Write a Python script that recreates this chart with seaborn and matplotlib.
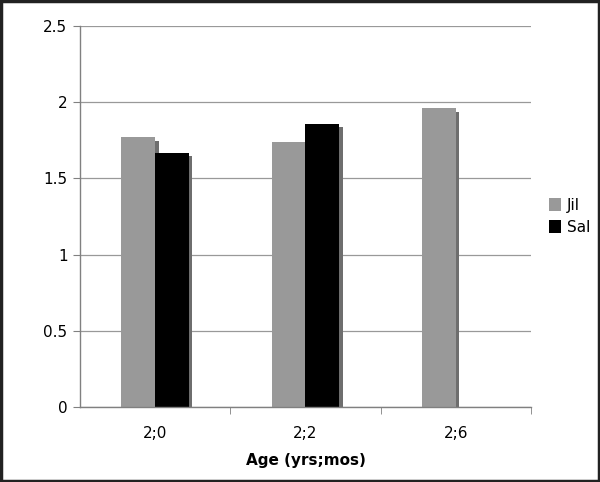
import matplotlib
matplotlib.use("Agg")
import matplotlib.pyplot as plt
import matplotlib.patheffects as pe
from matplotlib.patches import Rectangle, Patch
import numpy as np
import pandas as pd
import seaborn as sns

ages = ["2;0", "2;2", "2;6"]
jil = [1.77, 1.74, 1.96]
sal = [1.67, 1.86, np.nan]
series = ["Jil", "Sal"]
colors = ["#999999", "#000000"]

rows = []
for a, j, s in zip(ages, jil, sal):
    rows.append({"Age": a, "Child": "Jil", "Value": j})
    if not np.isnan(s):
        rows.append({"Age": a, "Child": "Sal", "Value": s})
df = pd.DataFrame(rows)

sns.set_style("white")
plt.rcParams["font.family"] = ["DejaVu Sans"]
plt.rcParams["text.color"] = "black"
plt.rcParams["xtick.color"] = "black"
plt.rcParams["ytick.color"] = "black"
plt.rcParams["axes.labelcolor"] = "black"

fig = plt.figure(figsize=(6.0, 4.82), dpi=100)
ax = fig.add_axes([0.1333, 0.1556, 0.7517, 0.7904])

sns.barplot(data=df, x="Age", y="Value", hue="Child", order=ages,
            hue_order=series, palette=colors, width=0.45, ax=ax,
            saturation=1, errorbar=None, legend=False)

for p in ax.patches:
    p.set_edgecolor("none")
    p.set_path_effects([pe.SimplePatchShadow(offset=(2.5, -2.5),
                                             shadow_rgbFace="#6e6e6e", alpha=1),
                        pe.Normal()])

ax.set_ylim(0, 2.5)
ax.set_xlim(-0.5, 2.5)
ax.set_yticks([0, 0.5, 1, 1.5, 2, 2.5])
ax.set_yticklabels(["0", "0.5", "1", "1.5", "2", "2.5"])
ax.yaxis.grid(True, color="#999999", linewidth=0.9)
ax.set_axisbelow(True)

for s in ["top", "right"]:
    ax.spines[s].set_visible(False)
ax.spines["left"].set_color("#808080")
ax.spines["bottom"].set_color("#808080")
ax.spines["left"].set_linewidth(1)
ax.spines["bottom"].set_linewidth(1)

ax.tick_params(axis="y", which="major", length=5, color="#808080",
               direction="out", labelsize=11, labelcolor="black", left=True, pad=4)
ax.tick_params(axis="x", which="major", length=0, labelsize=11,
               labelcolor="black", pad=14)
ax.set_xticks([0.5, 1.5, 2.5], minor=True)
ax.tick_params(axis="x", which="minor", length=5, color="#808080",
               direction="out", bottom=True)

ax.set_ylabel("")
ax.set_xlabel("Age (yrs;mos)", fontsize=11, fontweight="bold", labelpad=8,
              color="black")

handles = [Patch(facecolor=c, edgecolor="none") for c in colors]
ax.legend(handles, series, loc="center left", bbox_to_anchor=(1.04, 0.5),
          frameon=False, fontsize=11, handlelength=0.8, handleheight=0.9,
          handletextpad=0.35, labelspacing=0.45, labelcolor="black",
          borderpad=0, borderaxespad=0)

fig.patches.append(Rectangle((0.002, 0.002), 0.996, 0.996, transform=fig.transFigure,
                             fill=False, edgecolor="#222222", linewidth=2.5))

fig.savefig("out.png", dpi=100)
